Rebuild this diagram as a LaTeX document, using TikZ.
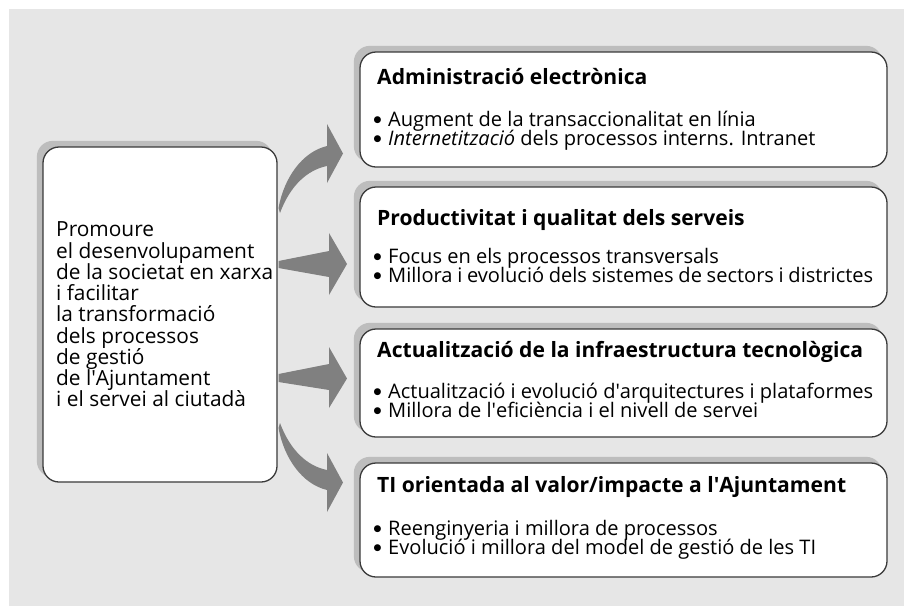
\documentclass[tikz,border=0pt]{standalone}
\usepackage{fontspec}
\setmainfont{Open Sans}
\newfontfamily\mysymfont{DejaVu Sans}
\usetikzlibrary{backgrounds,calc}
\definecolor{bggray}{HTML}{E6E6E6}
\definecolor{shgray}{HTML}{BDBDBD}
\definecolor{argray}{HTML}{808080}
\definecolor{bdgray}{HTML}{3A3A3A}
\newlength\mytmpw
\newcommand\mycalcsize[3]{%
  \settowidth\mytmpw{\fontsize{10}{12}\selectfont #3}%
  \pgfmathsetmacro#1{10*#2/\mytmpw}}
\tikzset{
  box/.style={draw=bdgray, line width=1.3pt, fill=white, rounded corners=16pt, inner sep=0pt},
  shadowbox/.style={fill=shgray, rounded corners=16pt},
  ttl/.style={anchor=base west, inner sep=0pt, font=\fontsize{\tsize}{18}\selectfont\bfseries},
  itm/.style={anchor=base west, inner sep=0pt, font=\fontsize{\isize}{19}\selectfont},
  lft/.style={anchor=base west, inner sep=0pt, font=\fontsize{\lsize}{21}\selectfont},
  arw/.style={fill=argray, draw=none},
}
\newcommand{\bul}{\makebox[15pt][l]{\hspace{0.5pt}\raisebox{3.6pt}{\mysymfont\fontsize{9}{9}\selectfont ●}}}
\newcommand{\apo}{\textquotesingle}
\newcommand{\twolines}[2]{\parbox[t]{500pt}{\lineskiplimit=-100pt\lineskip=0pt\raggedright\bul #1\\\bul #2}}
\begin{document}%
\mycalcsize{\lsize}{217}{de la societat en xarxa}%
\mycalcsize{\isize}{489}{Millora i evolució dels sistemes de sectors i districtes}%
\mycalcsize{\tsize}{486}{\bfseries Actualització de la infraestructura tecnològica}%
\begin{tikzpicture}[x=1pt,y=-1pt]
\useasboundingbox (0,0) rectangle (904,606);
% boxes
\node[box, minimum width=234pt, minimum height=335pt] (L) at (160,314.5) {};
\node[box, minimum width=527pt, minimum height=115pt] (b1) at (623.5,109.5) {};
\node[box, minimum width=527pt, minimum height=120pt] (b2) at (623.5,247) {};
\node[box, minimum width=527pt, minimum height=108pt] (b3) at (623.5,383) {};
\node[box, minimum width=527pt, minimum height=114pt] (b4) at (623.5,520) {};
\begin{scope}[on background layer]
  \fill[bggray] (9,9) rectangle (904,606);
  \foreach \n in {L,b1,b2,b3,b4}{
    \fill[shadowbox] ($(\n.south west)+(-5.5,-5.5)$) rectangle ($(\n.north east)+(-5.5,-5.5)$);
  }
\end{scope}
% left text
\node[lft] (l1) at (56,236.7) {Promoure};
\node[lft] (l2) at (56,258) {el desenvolupament};
\node[lft] (l3) at (56,279.2) {de la societat en xarxa};
\node[lft] (l4) at (56,300.5) {i facilitar};
\node[lft] (l5) at (56,321.7) {la transformació};
\node[lft] (l6) at (56,343) {dels processos};
\node[lft] (l7) at (56,364.2) {de gestió};
\node[lft] (l8) at (56,385.5) {de l\apo Ajuntament};
\node[lft] (l9) at (56,406.7) {i el servei al ciutadà};
% box 1
\node[ttl] (t1) at (377,84) {Administració electrònica};
\node[itm] (t1a) at (373,126.5) {\twolines{Augment de la transaccionalitat en línia}{\textit{Internetització} dels processos interns. Intranet}};
% box 2
\node[ttl] (t2) at (377,225) {Productivitat i qualitat dels serveis};
\node[itm] (t2a) at (373,263) {\twolines{Focus en els processos transversals}{Millora i evolució dels sistemes de sectors i districtes}};
% box 3
\node[ttl] (t3) at (377,357) {Actualització de la infraestructura tecnològica};
\node[itm] (t3a) at (373,398) {\twolines{Actualització i evolució d\apo arquitectures i plataformes}{Millora de l\apo eficiència i el nivell de servei}};
% box 4
\node[ttl] (t4) at (377,492) {TI orientada al valor/impacte a l\apo Ajuntament};
\node[itm] (t4a) at (373,535) {\twolines{Reenginyeria i millora de processos}{Evolució i millora del model de gestió de les TI}};
% arrows
\fill[arw] (278.5,208) .. controls (284,178) and (302,152) .. (327,146)
  -- (327,124) -- (343,153.5) -- (327,183) -- (327,166)
  .. controls (307,170) and (290,186) .. (280,213) -- cycle;
\fill[arw] (278.5,261) -- (329,251) -- (329,233) -- (347,264) -- (329,295) -- (329,277) -- (278.5,268) -- cycle;
\fill[arw] (278.5,374) -- (329,364) -- (329,347) -- (347,378.5) -- (329,408) -- (329,390) -- (278.5,382) -- cycle;
\fill[arw] (278.5,428) .. controls (284,458) and (302,484) .. (327,490)
  -- (327,512) -- (343,482.5) -- (327,453) -- (327,470)
  .. controls (307,466) and (290,450) .. (280,423) -- cycle;
\end{tikzpicture}%
\end{document}
